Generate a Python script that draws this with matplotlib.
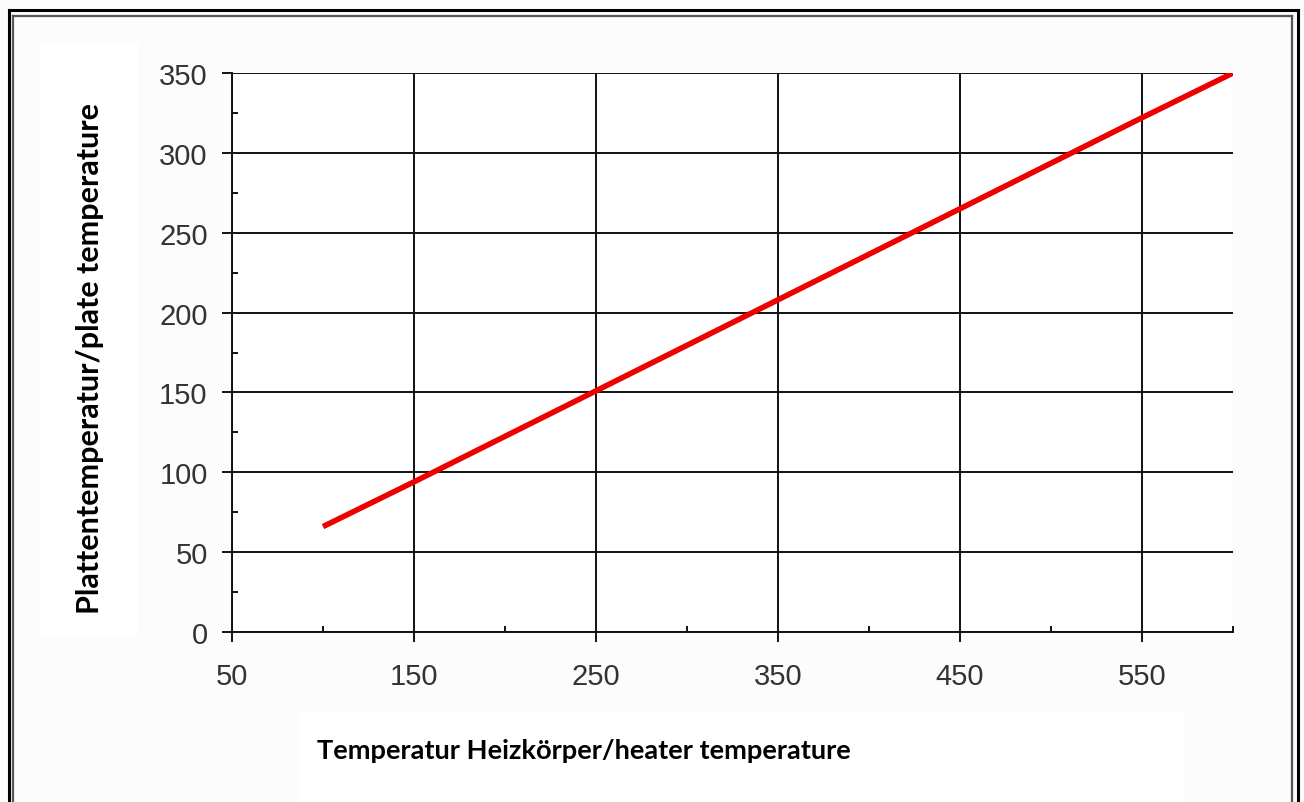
import matplotlib.pyplot as plt
from matplotlib.lines import Line2D
from matplotlib.patches import Rectangle
from matplotlib.ticker import MultipleLocator

# Heizkörper- vs. Plattentemperatur
heater_temp = [100, 150, 250, 350, 450, 550, 600]
plate_temp = [66, 94, 151, 208, 265, 322, 350]

x_ticks = [50, 150, 250, 350, 450, 550]
y_ticks = [0, 50, 100, 150, 200, 250, 300, 350]

W, H = 1304, 803
fig = plt.figure(figsize=(W / 100, H / 100), dpi=100, facecolor='#fcfcfc')

# weisse Kaesten hinter den Achsentiteln
fig.add_artist(Rectangle((40 / W, 1 - 635 / H), 97 / W, 592 / H,
                         transform=fig.transFigure, color='white', zorder=0))
fig.add_artist(Rectangle((300 / W, 0), 883 / W, 1 - 713 / H,
                         transform=fig.transFigure, color='white', zorder=0))

ax = fig.add_axes([232 / W, 1 - 633 / H, 1001 / W, 559 / H])
ax.set_facecolor('white')
ax.plot(heater_temp, plate_temp, color='#ee0000', lw=4, solid_capstyle='butt', zorder=3)

ax.set_xlim(50, 600)
ax.set_ylim(0, 350)
ax.set_xticks(x_ticks)
ax.set_yticks(y_ticks)
ax.xaxis.set_minor_locator(MultipleLocator(50))
ax.yaxis.set_minor_locator(MultipleLocator(25))

for s in ['top', 'right']:
    ax.spines[s].set_visible(False)
for s in ['left', 'bottom']:
    ax.spines[s].set_linewidth(1.4)
    ax.spines[s].set_color('#111111')

ax.grid(True, which='major', color='#111111', lw=1.4)
ax.tick_params(which='major', direction='out', length=7.5, width=1.4, color='#111111',
               labelsize=21, labelcolor='#333333')
ax.tick_params(axis='x', which='major', pad=14)
ax.tick_params(axis='y', which='major', pad=10)
ax.tick_params(which='minor', direction='in', length=4, width=1.4, color='#111111')
for lab in ax.get_xticklabels() + ax.get_yticklabels():
    lab.set_family('Liberation Sans')

fig.text(584 / W, 1 - 751 / H, 'Temperatur Heizkörper/heater temperature',
         ha='center', va='center', fontsize=19.6, fontweight='bold', family='Lato')
fig.text(90 / W, 1 - 358 / H, 'Plattentemperatur/plate temperature',
         ha='center', va='center', rotation=90, fontsize=22, fontweight='bold', family='Lato')

# doppelter Rahmen
def frame(x0, x1, y0, color, lw):
    kw = dict(transform=fig.transFigure, color=color, lw=lw)
    fig.add_artist(Line2D([x0 / W, x0 / W], [0, 1 - y0 / H], **kw))
    fig.add_artist(Line2D([x1 / W, x1 / W], [0, 1 - y0 / H], **kw))
    fig.add_artist(Line2D([x0 / W, x1 / W], [1 - y0 / H, 1 - y0 / H], **kw))

frame(8.5, 1297.5, 11, 'black', 2.2)
frame(13.5, 1291.5, 17, '#555555', 1.6)

fig.savefig('out.png', dpi=100, facecolor=fig.get_facecolor())
